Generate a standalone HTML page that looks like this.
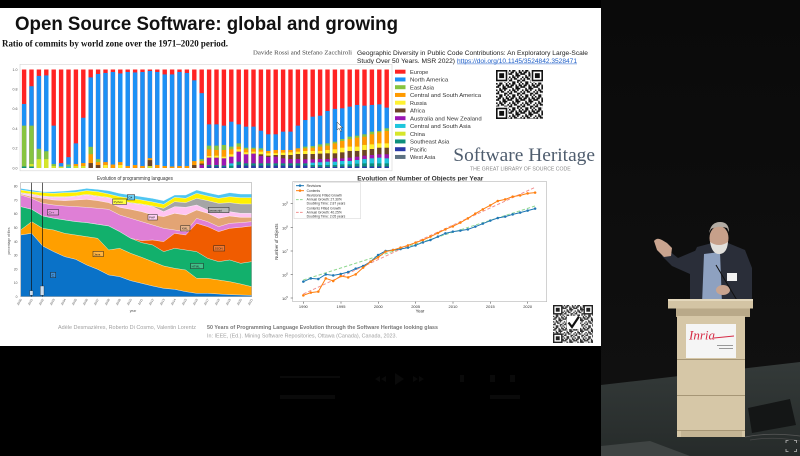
<!DOCTYPE html>
<html><head><meta charset="utf-8">
<style>
html,body{margin:0;padding:0;background:#000;width:800px;height:456px;overflow:hidden}
svg{display:block}
.sans{font-family:"Liberation Sans",Arial,sans-serif}
.serif{font-family:"Liberation Serif","Times New Roman",serif}
.e{fill:#ff2323}.n{fill:#1c90f5}.a{fill:#86c440}.s{fill:#ff9a00}.u{fill:#fff230}.f{fill:#6b4428}.p{fill:#9a16b4}.c{fill:#1ec6dc}.h{fill:#d6e62a}.t{fill:#0d8f7c}.i{fill:#2a3aa8}.w{fill:#5c7282}
.tk{font-family:"Liberation Sans",sans-serif;fill:#555}
</style></head>
<body>
<svg width="800" height="456" viewBox="0 0 800 456" xmlns="http://www.w3.org/2000/svg">
<defs>
<pattern id="q1" width="8" height="8" patternUnits="userSpaceOnUse" patternTransform="translate(496 70) scale(1.62)">
<path fill="#111" d="M0 0h1v1h-1z M2 0h2v1h-2z M6 0h1v1h-1z M1 1h2v1h-2z M4 1h1v1h-1z M6 1h2v1h-2z M0 2h2v1h-2z M4 2h2v1h-2z M7 2h1v1h-1z M2 3h1v1h-1z M4 3h3v1h-3z M0 4h1v1h-1z M2 4h2v1h-2z M5 4h1v1h-1z M1 5h1v1h-1z M3 5h2v1h-2z M7 5h1v1h-1z M0 6h2v1h-2z M5 6h2v1h-2z M2 7h2v1h-2z M5 7h1v1h-1z M7 7h1v1h-1z"/>
</pattern>
<pattern id="q2" width="8" height="8" patternUnits="userSpaceOnUse" patternTransform="translate(553 305) scale(1.35)">
<path fill="#333" d="M0 0h1v1h-1z M2 0h2v1h-2z M6 0h1v1h-1z M1 1h2v1h-2z M4 1h1v1h-1z M6 1h2v1h-2z M0 2h2v1h-2z M4 2h2v1h-2z M7 2h1v1h-1z M2 3h1v1h-1z M4 3h3v1h-3z M0 4h1v1h-1z M2 4h2v1h-2z M5 4h1v1h-1z M1 5h1v1h-1z M3 5h2v1h-2z M7 5h1v1h-1z M0 6h2v1h-2z M5 6h2v1h-2z M2 7h2v1h-2z M5 7h1v1h-1z M7 7h1v1h-1z"/>
</pattern>
<marker id="mb" markerWidth="10" markerHeight="10" refX="5" refY="5" markerUnits="userSpaceOnUse"><circle cx="5" cy="5" r="3.8" fill="#1f77b4"/></marker>
<marker id="mo" markerWidth="10" markerHeight="10" refX="5" refY="5" markerUnits="userSpaceOnUse"><circle cx="5" cy="5" r="3.8" fill="#ff7f0e"/></marker>
<linearGradient id="cur" x1="0" y1="0" x2="0" y2="1"><stop offset="0" stop-color="#0a0a0a"/><stop offset="1" stop-color="#111"/></linearGradient>
<linearGradient id="flr" x1="0" y1="0" x2="0" y2="1"><stop offset="0" stop-color="#343a39"/><stop offset="1" stop-color="#262b2a"/></linearGradient>
</defs>

<rect x="0" y="0" width="800" height="456" fill="#000"/>
<rect x="0" y="8" width="601" height="338" fill="#fff"/>

<text class="sans" x="15" y="30" font-size="19.5" font-weight="bold" fill="#111" textLength="383" lengthAdjust="spacingAndGlyphs">Open Source Software: global and growing</text>
<text class="serif" x="2" y="46.5" font-size="9" font-weight="bold" fill="#111" textLength="226" lengthAdjust="spacingAndGlyphs">Ratio of commits by world zone over the 1971–2020 period.</text>
<text class="serif" x="253" y="54.5" font-size="6.3" fill="#444" textLength="99" lengthAdjust="spacingAndGlyphs">Davide Rossi and Stefano Zacchiroli</text>
<text class="sans" x="357" y="54.8" font-size="6.8" fill="#222" textLength="231" lengthAdjust="spacingAndGlyphs">Geographic Diversity in Public Code Contributions: An Exploratory Large-Scale</text>
<text class="sans" x="357" y="62.8" font-size="6.8" fill="#222" textLength="98" lengthAdjust="spacingAndGlyphs">Study Over 50 Years. MSR 2022)</text>
<text class="sans" x="457" y="62.8" font-size="6.8" fill="#1f5fc8" textLength="120" lengthAdjust="spacingAndGlyphs">https://doi.org/10.1145/3524842.3528471</text>
<line x1="457" y1="63.9" x2="577" y2="63.9" stroke="#1f5fc8" stroke-width="0.5"/>

<rect x="20" y="64.3" width="372" height="106.5" fill="none" stroke="#d4d4d4" stroke-width="0.6"/>
<g class="tk" font-size="3.6" text-anchor="end">
<text x="17.5" y="70.8">1.0</text><text x="17.5" y="90.5">0.8</text><text x="17.5" y="110.2">0.6</text><text x="17.5" y="129.9">0.4</text><text x="17.5" y="149.6">0.2</text><text x="17.5" y="169.3">0.0</text>
</g>

<g>
<g transform="translate(21.9 168) scale(4.4 -98.5)"><rect class="e" width="1" height="1"/><rect class="n" width="1" height=".65"/><rect class="a" width="1" height=".43"/><rect class="t" width="1" height=".015"/></g>
<g transform="translate(29.3 168) scale(4.4 -98.5)"><rect class="e" width="1" height="1"/><rect class="n" width="1" height=".83"/><rect class="a" width="1" height=".43"/><rect class="h" width="1" height=".04"/><rect class="t" width="1" height=".015"/></g>
<g transform="translate(36.7 168) scale(4.4 -98.5)"><rect class="e" width="1" height="1"/><rect class="n" width="1" height=".935"/><rect class="a" width="1" height=".195"/><rect class="h" width="1" height=".09"/></g>
<g transform="translate(44.1 168) scale(4.4 -98.5)"><rect class="e" width="1" height="1"/><rect class="n" width="1" height=".94"/><rect class="a" width="1" height=".17"/><rect class="h" width="1" height=".09"/></g>
<g transform="translate(51.5 168) scale(4.4 -98.5)"><rect class="e" width="1" height="1"/><rect class="n" width="1" height=".43"/><rect class="a" width="1" height=".04"/><rect class="h" width="1" height=".02"/></g>
<g transform="translate(58.9 168) scale(4.4 -98.5)"><rect class="e" width="1" height="1"/><rect class="n" width="1" height=".05"/><rect class="h" width="1" height=".015"/></g>
<g transform="translate(66.3 168) scale(4.4 -98.5)"><rect class="e" width="1" height="1"/><rect class="n" width="1" height=".11"/><rect class="a" width="1" height=".035"/><rect class="c" width="1" height=".015"/></g>
<g transform="translate(73.7 168) scale(4.4 -98.5)"><rect class="e" width="1" height="1"/><rect class="n" width="1" height=".25"/><rect class="s" width="1" height=".04"/><rect class="h" width="1" height=".02"/></g>
<g transform="translate(81.1 168) scale(4.4 -98.5)"><rect class="e" width="1" height="1"/><rect class="n" width="1" height=".51"/><rect class="s" width="1" height=".05"/><rect class="h" width="1" height=".02"/></g>
<g transform="translate(88.5 168) scale(4.4 -98.5)"><rect class="e" width="1" height="1"/><rect class="n" width="1" height=".92"/><rect class="a" width="1" height=".215"/><rect class="s" width="1" height=".14"/><rect class="f" width="1" height=".05"/></g>
<g transform="translate(95.9 168) scale(4.4 -98.5)"><rect class="e" width="1" height="1"/><rect class="n" width="1" height=".955"/><rect class="a" width="1" height=".09"/><rect class="s" width="1" height=".06"/><rect class="f" width="1" height=".03"/></g>
<g transform="translate(103.3 168) scale(4.4 -98.5)"><rect class="e" width="1" height="1"/><rect class="n" width="1" height=".965"/><rect class="s" width="1" height=".06"/><rect class="u" width="1" height=".03"/></g>
<g transform="translate(110.7 168) scale(4.4 -98.5)"><rect class="e" width="1" height="1"/><rect class="n" width="1" height=".975"/><rect class="s" width="1" height=".035"/></g>
<g transform="translate(118.1 168) scale(4.4 -98.5)"><rect class="e" width="1" height="1"/><rect class="n" width="1" height=".96"/><rect class="s" width="1" height=".06"/><rect class="u" width="1" height=".03"/></g>
<g transform="translate(125.5 168) scale(4.4 -98.5)"><rect class="e" width="1" height="1"/><rect class="n" width="1" height=".975"/><rect class="s" width="1" height=".02"/></g>
<g transform="translate(132.9 168) scale(4.4 -98.5)"><rect class="e" width="1" height="1"/><rect class="n" width="1" height=".97"/><rect class="s" width="1" height=".03"/></g>
<g transform="translate(140.3 168) scale(4.4 -98.5)"><rect class="e" width="1" height="1"/><rect class="n" width="1" height=".975"/><rect class="s" width="1" height=".02"/></g>
<g transform="translate(147.7 168) scale(4.4 -98.5)"><rect class="e" width="1" height="1"/><rect class="n" width="1" height=".985"/><rect class="s" width="1" height=".1"/><rect class="f" width="1" height=".08"/><rect class="h" width="1" height=".02"/></g>
<g transform="translate(155.1 168) scale(4.4 -98.5)"><rect class="e" width="1" height="1"/><rect class="n" width="1" height=".975"/><rect class="s" width="1" height=".03"/></g>
<g transform="translate(162.5 168) scale(4.4 -98.5)"><rect class="e" width="1" height="1"/><rect class="n" width="1" height=".95"/><rect class="s" width="1" height=".02"/></g>
<g transform="translate(169.9 168) scale(4.4 -98.5)"><rect class="e" width="1" height="1"/><rect class="n" width="1" height=".95"/><rect class="s" width="1" height=".015"/></g>
<g transform="translate(177.3 168) scale(4.4 -98.5)"><rect class="e" width="1" height="1"/><rect class="n" width="1" height=".975"/><rect class="s" width="1" height=".02"/></g>
<g transform="translate(184.7 168) scale(4.4 -98.5)"><rect class="e" width="1" height="1"/><rect class="n" width="1" height=".965"/><rect class="s" width="1" height=".02"/></g>
<g transform="translate(192.1 168) scale(4.4 -98.5)"><rect class="e" width="1" height="1"/><rect class="n" width="1" height=".89"/><rect class="s" width="1" height=".07"/><rect class="f" width="1" height=".03"/></g>
<g transform="translate(199.5 168) scale(4.4 -98.5)"><rect class="e" width="1" height="1"/><rect class="n" width="1" height=".76"/><rect class="a" width="1" height=".09"/><rect class="s" width="1" height=".07"/><rect class="f" width="1" height=".045"/><rect class="p" width="1" height=".03"/></g>
<g transform="translate(206.9 168) scale(4.4 -98.5)"><rect class="e" width="1" height="1"/><rect class="n" width="1" height=".443"/><rect class="a" width="1" height=".227"/><rect class="s" width="1" height=".19"/><rect class="u" width="1" height=".122"/><rect class="p" width="1" height=".105"/><rect class="t" width="1" height=".03"/><rect class="i" width="1" height=".017"/></g>
<g transform="translate(214.3 168) scale(4.4 -98.5)"><rect class="e" width="1" height="1"/><rect class="n" width="1" height=".443"/><rect class="a" width="1" height=".227"/><rect class="s" width="1" height=".183"/><rect class="u" width="1" height=".125"/><rect class="p" width="1" height=".105"/><rect class="t" width="1" height=".03"/><rect class="i" width="1" height=".017"/></g>
<g transform="translate(221.7 168) scale(4.4 -98.5)"><rect class="e" width="1" height="1"/><rect class="n" width="1" height=".43"/><rect class="a" width="1" height=".234"/><rect class="s" width="1" height=".183"/><rect class="u" width="1" height=".115"/><rect class="p" width="1" height=".098"/><rect class="t" width="1" height=".024"/><rect class="i" width="1" height=".012"/></g>
<g transform="translate(229.1 168) scale(4.4 -98.5)"><rect class="e" width="1" height="1"/><rect class="n" width="1" height=".47"/><rect class="a" width="1" height=".217"/><rect class="s" width="1" height=".19"/><rect class="u" width="1" height=".139"/><rect class="p" width="1" height=".115"/><rect class="c" width="1" height=".047"/><rect class="t" width="1" height=".024"/></g>
<g transform="translate(236.5 168) scale(4.4 -98.5)"><rect class="e" width="1" height="1"/><rect class="n" width="1" height=".443"/><rect class="a" width="1" height=".25"/><rect class="s" width="1" height=".217"/><rect class="u" width="1" height=".19"/><rect class="p" width="1" height=".166"/><rect class="t" width="1" height=".064"/><rect class="i" width="1" height=".03"/></g>
<g transform="translate(243.9 168) scale(4.4 -98.5)"><rect class="e" width="1" height="1"/><rect class="n" width="1" height=".42"/><rect class="a" width="1" height=".206"/><rect class="s" width="1" height=".19"/><rect class="u" width="1" height=".159"/><rect class="p" width="1" height=".139"/><rect class="t" width="1" height=".047"/><rect class="i" width="1" height=".025"/></g>
<g transform="translate(251.3 168) scale(4.4 -98.5)"><rect class="e" width="1" height="1"/><rect class="n" width="1" height=".42"/><rect class="a" width="1" height=".206"/><rect class="s" width="1" height=".193"/><rect class="u" width="1" height=".166"/><rect class="p" width="1" height=".146"/><rect class="t" width="1" height=".047"/><rect class="i" width="1" height=".025"/></g>
<g transform="translate(258.7 168) scale(4.4 -98.5)"><rect class="e" width="1" height="1"/><rect class="n" width="1" height=".379"/><rect class="a" width="1" height=".2"/><rect class="s" width="1" height=".183"/><rect class="u" width="1" height=".166"/><rect class="f" width="1" height=".139"/><rect class="p" width="1" height=".122"/><rect class="t" width="1" height=".047"/><rect class="i" width="1" height=".025"/></g>
<g transform="translate(266.1 168) scale(4.4 -98.5)"><rect class="e" width="1" height="1"/><rect class="n" width="1" height=".342"/><rect class="s" width="1" height=".173"/><rect class="u" width="1" height=".149"/><rect class="f" width="1" height=".125"/><rect class="p" width="1" height=".112"/><rect class="t" width="1" height=".047"/><rect class="i" width="1" height=".025"/></g>
<g transform="translate(273.5 168) scale(4.4 -98.5)"><rect class="e" width="1" height="1"/><rect class="n" width="1" height=".342"/><rect class="s" width="1" height=".183"/><rect class="u" width="1" height=".149"/><rect class="f" width="1" height=".132"/><rect class="p" width="1" height=".115"/><rect class="t" width="1" height=".047"/><rect class="i" width="1" height=".025"/></g>
<g transform="translate(280.9 168) scale(4.4 -98.5)"><rect class="e" width="1" height="1"/><rect class="n" width="1" height=".369"/><rect class="s" width="1" height=".183"/><rect class="u" width="1" height=".156"/><rect class="f" width="1" height=".132"/><rect class="p" width="1" height=".098"/><rect class="t" width="1" height=".047"/><rect class="i" width="1" height=".025"/></g>
<g transform="translate(288.3 168) scale(4.4 -98.5)"><rect class="e" width="1" height="1"/><rect class="n" width="1" height=".369"/><rect class="s" width="1" height=".183"/><rect class="u" width="1" height=".159"/><rect class="f" width="1" height=".132"/><rect class="p" width="1" height=".091"/><rect class="t" width="1" height=".047"/><rect class="i" width="1" height=".025"/></g>
<g transform="translate(295.7 168) scale(4.4 -98.5)"><rect class="e" width="1" height="1"/><rect class="n" width="1" height=".43"/><rect class="s" width="1" height=".2"/><rect class="u" width="1" height=".166"/><rect class="f" width="1" height=".142"/><rect class="p" width="1" height=".091"/><rect class="t" width="1" height=".047"/><rect class="i" width="1" height=".025"/></g>
<g transform="translate(303.1 168) scale(4.4 -98.5)"><rect class="e" width="1" height="1"/><rect class="n" width="1" height=".487"/><rect class="a" width="1" height=".217"/><rect class="s" width="1" height=".2"/><rect class="u" width="1" height=".173"/><rect class="f" width="1" height=".142"/><rect class="p" width="1" height=".088"/><rect class="t" width="1" height=".047"/><rect class="i" width="1" height=".025"/></g>
<g transform="translate(310.5 168) scale(4.4 -98.5)"><rect class="e" width="1" height="1"/><rect class="n" width="1" height=".521"/><rect class="a" width="1" height=".223"/><rect class="s" width="1" height=".206"/><rect class="u" width="1" height=".173"/><rect class="f" width="1" height=".142"/><rect class="p" width="1" height=".088"/><rect class="c" width="1" height=".054"/><rect class="t" width="1" height=".03"/><rect class="i" width="1" height=".012"/></g>
<g transform="translate(317.9 168) scale(4.4 -98.5)"><rect class="e" width="1" height="1"/><rect class="n" width="1" height=".531"/><rect class="a" width="1" height=".24"/><rect class="s" width="1" height=".217"/><rect class="u" width="1" height=".173"/><rect class="f" width="1" height=".146"/><rect class="p" width="1" height=".091"/><rect class="c" width="1" height=".058"/><rect class="t" width="1" height=".03"/><rect class="i" width="1" height=".012"/></g>
<g transform="translate(325.3 168) scale(4.4 -98.5)"><rect class="e" width="1" height="1"/><rect class="n" width="1" height=".579"/><rect class="a" width="1" height=".25"/><rect class="s" width="1" height=".227"/><rect class="u" width="1" height=".183"/><rect class="f" width="1" height=".149"/><rect class="p" width="1" height=".091"/><rect class="c" width="1" height=".064"/><rect class="t" width="1" height=".03"/><rect class="i" width="1" height=".012"/></g>
<g transform="translate(332.7 168) scale(4.4 -98.5)"><rect class="e" width="1" height="1"/><rect class="n" width="1" height=".6"/><rect class="a" width="1" height=".267"/><rect class="s" width="1" height=".25"/><rect class="u" width="1" height=".19"/><rect class="f" width="1" height=".149"/><rect class="p" width="1" height=".098"/><rect class="c" width="1" height=".064"/><rect class="t" width="1" height=".03"/><rect class="i" width="1" height=".012"/></g>
<g transform="translate(340.1 168) scale(4.4 -98.5)"><rect class="e" width="1" height="1"/><rect class="n" width="1" height=".606"/><rect class="a" width="1" height=".294"/><rect class="s" width="1" height=".274"/><rect class="u" width="1" height=".206"/><rect class="f" width="1" height=".159"/><rect class="p" width="1" height=".098"/><rect class="c" width="1" height=".071"/><rect class="t" width="1" height=".037"/><rect class="i" width="1" height=".015"/></g>
<g transform="translate(347.5 168) scale(4.4 -98.5)"><rect class="e" width="1" height="1"/><rect class="n" width="1" height=".623"/><rect class="a" width="1" height=".318"/><rect class="s" width="1" height=".294"/><rect class="u" width="1" height=".217"/><rect class="f" width="1" height=".173"/><rect class="p" width="1" height=".105"/><rect class="c" width="1" height=".071"/><rect class="t" width="1" height=".037"/><rect class="i" width="1" height=".015"/></g>
<g transform="translate(354.9 168) scale(4.4 -98.5)"><rect class="e" width="1" height="1"/><rect class="n" width="1" height=".64"/><rect class="a" width="1" height=".328"/><rect class="s" width="1" height=".308"/><rect class="u" width="1" height=".217"/><rect class="f" width="1" height=".173"/><rect class="p" width="1" height=".115"/><rect class="c" width="1" height=".081"/><rect class="t" width="1" height=".044"/><rect class="i" width="1" height=".015"/></g>
<g transform="translate(362.3 168) scale(4.4 -98.5)"><rect class="e" width="1" height="1"/><rect class="n" width="1" height=".633"/><rect class="a" width="1" height=".342"/><rect class="s" width="1" height=".318"/><rect class="u" width="1" height=".234"/><rect class="f" width="1" height=".183"/><rect class="p" width="1" height=".125"/><rect class="c" width="1" height=".091"/><rect class="t" width="1" height=".047"/><rect class="i" width="1" height=".015"/></g>
<g transform="translate(369.7 168) scale(4.4 -98.5)"><rect class="e" width="1" height="1"/><rect class="n" width="1" height=".64"/><rect class="a" width="1" height=".369"/><rect class="s" width="1" height=".342"/><rect class="u" width="1" height=".24"/><rect class="f" width="1" height=".193"/><rect class="p" width="1" height=".132"/><rect class="c" width="1" height=".098"/><rect class="t" width="1" height=".047"/><rect class="i" width="1" height=".015"/></g>
<g transform="translate(377.1 168) scale(4.4 -98.5)"><rect class="e" width="1" height="1"/><rect class="n" width="1" height=".646"/><rect class="a" width="1" height=".376"/><rect class="s" width="1" height=".362"/><rect class="u" width="1" height=".25"/><rect class="f" width="1" height=".206"/><rect class="p" width="1" height=".139"/><rect class="c" width="1" height=".105"/><rect class="t" width="1" height=".047"/><rect class="i" width="1" height=".015"/></g>
<g transform="translate(384.5 168) scale(4.4 -98.5)"><rect class="e" width="1" height="1"/><rect class="n" width="1" height=".613"/><rect class="a" width="1" height=".403"/><rect class="s" width="1" height=".376"/><rect class="u" width="1" height=".25"/><rect class="f" width="1" height=".206"/><rect class="p" width="1" height=".139"/><rect class="c" width="1" height=".098"/><rect class="t" width="1" height=".047"/><rect class="i" width="1" height=".015"/></g>
</g>
<path d="M337 122 L337 130 L339 128.3 L340.6 131.5 L341.8 130.9 L340.3 127.8 L342.6 127.6 Z" fill="#fff" stroke="#333" stroke-width="0.5"/>

<g class="sans" font-size="5.8" fill="#333">
<rect class="e" x="395" y="69.7" width="10.5" height="4"/><text x="410" y="73.8" textLength="18.3" lengthAdjust="spacingAndGlyphs">Europe</text>
<rect class="n" x="395" y="77.45" width="10.5" height="4"/><text x="410" y="81.55" textLength="38.3" lengthAdjust="spacingAndGlyphs">North America</text>
<rect class="a" x="395" y="85.2" width="10.5" height="4"/><text x="410" y="89.3" textLength="24" lengthAdjust="spacingAndGlyphs">East Asia</text>
<rect class="s" x="395" y="92.95" width="10.5" height="4"/><text x="410" y="97.05" textLength="71" lengthAdjust="spacingAndGlyphs">Central and South America</text>
<rect class="u" x="395" y="100.7" width="10.5" height="4"/><text x="410" y="104.8" textLength="16.7" lengthAdjust="spacingAndGlyphs">Russia</text>
<rect class="f" x="395" y="108.45" width="10.5" height="4"/><text x="410" y="112.55" textLength="15" lengthAdjust="spacingAndGlyphs">Africa</text>
<rect class="p" x="395" y="116.2" width="10.5" height="4"/><text x="410" y="120.3" textLength="71.7" lengthAdjust="spacingAndGlyphs">Australia and New Zealand</text>
<rect class="c" x="395" y="123.95" width="10.5" height="4"/><text x="410" y="128.05" textLength="60.7" lengthAdjust="spacingAndGlyphs">Central and South Asia</text>
<rect class="h" x="395" y="131.7" width="10.5" height="4"/><text x="410" y="135.8" textLength="15" lengthAdjust="spacingAndGlyphs">China</text>
<rect class="t" x="395" y="139.45" width="10.5" height="4"/><text x="410" y="143.55" textLength="39.3" lengthAdjust="spacingAndGlyphs">Southeast Asia</text>
<rect class="i" x="395" y="147.2" width="10.5" height="4"/><text x="410" y="151.3" textLength="16.7" lengthAdjust="spacingAndGlyphs">Pacific</text>
<rect class="w" x="395" y="154.95" width="10.5" height="4"/><text x="410" y="159.05" textLength="25.3" lengthAdjust="spacingAndGlyphs">West Asia</text>
</g>

<rect x="496" y="70" width="47" height="49" fill="#fff"/>
<rect x="496" y="70" width="47" height="49" fill="url(#q1)"/>
<g>
<rect x="496" y="70" width="12.5" height="12.5" fill="#fff"/><rect x="496" y="70" width="11.3" height="11.3" fill="#111"/><rect x="497.6" y="71.6" width="8.1" height="8.1" fill="#fff"/><rect x="499.2" y="73.2" width="4.9" height="4.9" fill="#111"/>
<rect x="530.5" y="70" width="12.5" height="12.5" fill="#fff"/><rect x="531.7" y="70" width="11.3" height="11.3" fill="#111"/><rect x="533.3" y="71.6" width="8.1" height="8.1" fill="#fff"/><rect x="534.9" y="73.2" width="4.9" height="4.9" fill="#111"/>
<rect x="496" y="106.5" width="12.5" height="12.5" fill="#fff"/><rect x="496" y="107.7" width="11.3" height="11.3" fill="#111"/><rect x="497.6" y="109.3" width="8.1" height="8.1" fill="#fff"/><rect x="499.2" y="110.9" width="4.9" height="4.9" fill="#111"/>
</g>

<text class="serif" x="453.3" y="161" font-size="19" fill="#4f5d6e" textLength="141.7" lengthAdjust="spacingAndGlyphs">Software Heritage</text>
<text class="sans" x="470" y="170.5" font-size="5.2" fill="#8a8a8a" textLength="100.7" lengthAdjust="spacingAndGlyphs">THE GREAT LIBRARY OF SOURCE CODE</text>

<text class="sans" x="97" y="180.2" font-size="5" fill="#333" textLength="76" lengthAdjust="spacingAndGlyphs">Evolution of programming languages</text>
<g transform="translate(18 180) scale(0.333333)" stroke="#fff" stroke-width="1.2" stroke-linejoin="round">
<polygon fill="#4fc6f2" points="8,25 41,30 74,35 107,35 140,33 173,30 206,25 239,28 272,32 305,40 338,45 371,50 404,55 437,62 470,45 503,45 536,30 569,38 602,45 635,38 668,42 701,42 701,350 8,350"/>
<polygon fill="#fff000" points="8,30 41,35 74,38 107,40 140,38 173,37 206,32 239,35 272,42 305,50 338,55 371,60 404,66 437,73 470,52 503,55 536,40 569,48 602,55 635,50 668,53 701,53 701,350 8,350"/>
<polygon fill="#a5a5a5" points="8,38 41,42 74,48 107,50 140,50 173,48 206,43 239,48 272,52 305,62 338,68 371,72 404,78 437,85 470,65 503,68 536,55 569,62 602,70 635,68 668,72 701,72 701,350 8,350"/>
<polygon fill="#ffc4f2" points="8,40 41,44 74,50 107,52 140,52 173,50 206,45 239,50 272,54 305,64 338,70 371,74 404,80 437,95 470,80 503,82 536,75 569,90 602,100 635,95 668,100 701,100 701,350 8,350"/>
<polygon fill="#e3a474" points="8,42 41,50 74,55 107,60 140,62 173,60 206,58 239,62 272,68 305,82 338,88 371,95 404,105 437,110 470,100 503,105 536,90 569,100 602,115 635,108 668,112 701,112 701,350 8,350"/>
<polygon fill="#df7fd6" points="8,45 41,55 74,70 107,75 140,78 173,80 206,82 239,85 272,88 305,105 338,115 371,125 404,135 437,145 470,150 503,155 536,115 569,125 602,140 635,130 668,128 701,125 701,350 8,350"/>
<polygon fill="#f05c00" points="8,80 41,88 74,108 107,115 140,120 173,125 206,128 239,133 272,138 305,155 338,175 371,182 404,180 437,185 470,160 503,165 536,130 569,140 602,155 635,145 668,142 701,138 701,350 8,350"/>
<polygon fill="#12b06c" points="8,80 41,88 74,108 107,115 140,120 173,125 206,128 239,133 272,138 305,155 338,175 371,188 404,195 437,215 470,205 503,210 536,215 569,235 602,245 635,240 668,250 701,245 701,350 8,350"/>
<polygon fill="#ff9f00" points="8,150 41,125 74,145 107,150 140,160 173,165 206,170 239,175 272,210 305,205 338,220 371,232 404,245 437,258 470,265 503,270 536,295 569,295 602,300 635,305 668,312 701,320 701,350 8,350"/>
<polygon fill="#0a72c8" points="8,165 41,160 74,198 107,215 140,230 173,238 206,255 239,268 272,285 305,290 338,302 371,310 404,318 437,325 470,328 503,335 536,340 569,340 602,342 635,344 668,345 701,346 701,350 8,350"/>
</g>
<g transform="translate(18 180) scale(0.333333)">
<rect x="8" y="8" width="693" height="342" fill="none" stroke="#999" stroke-width="1.5"/>
<line x1="41" y1="8" x2="41" y2="350" stroke="#111" stroke-width="2"/>
<line x1="74" y1="8" x2="74" y2="350" stroke="#111" stroke-width="2"/>
<rect x="35" y="332" width="10" height="14" fill="#cde" stroke="#222" stroke-width="1"/>
<rect x="67" y="318" width="11" height="28" fill="#cde" stroke="#222" stroke-width="1"/>
<g font-family="Liberation Sans, sans-serif" font-size="10" fill="#222" stroke-width="1.5">
<rect x="98" y="277" width="15" height="16" fill="#3d8fd8" stroke="#222"/><text x="101" y="289">C</text>
<rect x="225" y="214" width="31" height="16" fill="#ffb340" stroke="#222"/><text x="228" y="226" font-size="9">Java</text>
<rect x="518" y="250" width="38" height="16" fill="#40c088" stroke="#222"/><text x="521" y="262" font-size="9">HTML</text>
<rect x="587" y="197" width="33" height="16" fill="#f47a30" stroke="#222"/><text x="590" y="209" font-size="9">JSON</text>
<rect x="488" y="137" width="28" height="16" fill="#e9b48a" stroke="#222"/><text x="491" y="149" font-size="9">XML</text>
<rect x="88" y="89" width="34" height="16" fill="#e699dd" stroke="#222"/><text x="92" y="101" font-size="9">C++</text>
<rect x="390" y="104" width="28" height="16" fill="#ffd0f4" stroke="#222"/><text x="393" y="116" font-size="9">PHP</text>
<rect x="571" y="82" width="62" height="16" fill="#b5b5b5" stroke="#222"/><text x="574" y="94" font-size="9">javascript</text>
<rect x="284" y="57" width="42" height="16" fill="#ffff40" stroke="#222"/><text x="287" y="69" font-size="9">Python</text>
<rect x="328" y="44" width="22" height="16" fill="#6fd0f4" stroke="#222"/><text x="331" y="56" font-size="9">C#</text>
</g>
</g>
<g class="tk" font-size="3.3" text-anchor="end">
<text x="17.5" y="298">0</text><text x="17.5" y="284.2">10</text><text x="17.5" y="270.4">20</text><text x="17.5" y="256.6">30</text><text x="17.5" y="242.8">40</text><text x="17.5" y="229">50</text><text x="17.5" y="215.2">60</text><text x="17.5" y="201.4">70</text><text x="17.5" y="187.6">80</text>
</g>
<text class="tk" font-size="3.3" transform="translate(10 241) rotate(-90)" text-anchor="middle">percentage of files</text>
<g class="tk" font-size="3.1" text-anchor="end">
<text transform="translate(22 299.5) rotate(-60)">2000</text>
<text transform="translate(33 299.5) rotate(-60)">2001</text>
<text transform="translate(44 299.5) rotate(-60)">2002</text>
<text transform="translate(55 299.5) rotate(-60)">2003</text>
<text transform="translate(66 299.5) rotate(-60)">2004</text>
<text transform="translate(77 299.5) rotate(-60)">2005</text>
<text transform="translate(88 299.5) rotate(-60)">2006</text>
<text transform="translate(99 299.5) rotate(-60)">2007</text>
<text transform="translate(110 299.5) rotate(-60)">2008</text>
<text transform="translate(121 299.5) rotate(-60)">2009</text>
<text transform="translate(132 299.5) rotate(-60)">2010</text>
<text transform="translate(143 299.5) rotate(-60)">2011</text>
<text transform="translate(154 299.5) rotate(-60)">2012</text>
<text transform="translate(165 299.5) rotate(-60)">2013</text>
<text transform="translate(176 299.5) rotate(-60)">2014</text>
<text transform="translate(187 299.5) rotate(-60)">2015</text>
<text transform="translate(198 299.5) rotate(-60)">2016</text>
<text transform="translate(209 299.5) rotate(-60)">2017</text>
<text transform="translate(220 299.5) rotate(-60)">2018</text>
<text transform="translate(231 299.5) rotate(-60)">2019</text>
<text transform="translate(242 299.5) rotate(-60)">2020</text>
<text transform="translate(253 299.5) rotate(-60)">2021</text>
</g>
<text class="tk" x="133" y="312" font-size="3.3" text-anchor="middle">year</text>

<text class="sans" x="357.3" y="180.6" font-size="6.4" font-weight="bold" fill="#333" textLength="126" lengthAdjust="spacingAndGlyphs">Evolution of Number of Objects per Year</text>
<g transform="translate(270 170) scale(0.333333)">
<rect x="68" y="35" width="762" height="360" fill="#fff" stroke="#bbb" stroke-width="2"/>
<g stroke="#666" stroke-width="2">
<line x1="62" y1="100" x2="68" y2="100"/><line x1="62" y1="172" x2="68" y2="172"/><line x1="62" y1="243" x2="68" y2="243"/><line x1="62" y1="313" x2="68" y2="313"/><line x1="62" y1="384" x2="68" y2="384"/>
<line x1="100" y1="395" x2="100" y2="401"/><line x1="213" y1="395" x2="213" y2="401"/><line x1="325" y1="395" x2="325" y2="401"/><line x1="437" y1="395" x2="437" y2="401"/><line x1="549" y1="395" x2="549" y2="401"/><line x1="661" y1="395" x2="661" y2="401"/><line x1="773" y1="395" x2="773" y2="401"/>
</g>
<g font-family="Liberation Sans, sans-serif" font-size="12" fill="#333">
<text x="36" y="106">10<tspan font-size="8" dy="-6">9</tspan></text>
<text x="36" y="178">10<tspan font-size="8" dy="-6">8</tspan></text>
<text x="36" y="249">10<tspan font-size="8" dy="-6">7</tspan></text>
<text x="36" y="319">10<tspan font-size="8" dy="-6">6</tspan></text>
<text x="36" y="390">10<tspan font-size="8" dy="-6">5</tspan></text>
<g text-anchor="middle">
<text x="100" y="414">1990</text><text x="213" y="414">1995</text><text x="325" y="414">2000</text><text x="437" y="414">2005</text><text x="549" y="414">2010</text><text x="661" y="414">2015</text><text x="773" y="414">2020</text>
<text x="450" y="427" font-size="13">Year</text>
<text transform="translate(24 215) rotate(-90)" font-size="13">Number of Objects</text>
</g>
</g>
<line x1="100" y1="330" x2="795" y2="108" stroke="#8fd88f" stroke-width="3" stroke-dasharray="10 6"/>
<line x1="100" y1="372" x2="795" y2="52" stroke="#f29090" stroke-width="3" stroke-dasharray="10 6"/>
<polyline fill="none" stroke="#1f77b4" stroke-width="3" marker-start="url(#mb)" marker-mid="url(#mb)" marker-end="url(#mb)" points="100,335 122.4,325 144.9,327 167.3,313 189.7,316 212.2,312 234.6,306 257,296 279.4,288 301.9,275 324.3,255 346.7,243 369.2,240 391.6,237 414,233 436.5,226 458.9,217 481.3,210 503.7,200 526.2,190 548.6,185 571,182 593.5,178 615.9,170 638.3,161 660.8,152 683.2,144 705.6,140 728,133 750.5,128 772.9,122 795.3,116"/>
<polyline fill="none" stroke="#ff7f0e" stroke-width="3" marker-start="url(#mo)" marker-mid="url(#mo)" marker-end="url(#mo)" points="100,376 122.4,368 144.9,365 167.3,325 189.7,333 212.2,318 234.6,322 257,313 279.4,293 301.9,275 324.3,262 346.7,245 369.2,240 391.6,233 414,226 436.5,218 458.9,210 481.3,200 503.7,189 526.2,178 548.6,169 571,158 593.5,145 615.9,131 638.3,118 660.8,106 683.2,93 705.6,88 728,80 750.5,76 772.9,70 795.3,68"/>
<rect x="72" y="38" width="200" height="108" fill="#fff" fill-opacity="0.85" stroke="#ddd" stroke-width="2"/>
<line x1="78" y1="47" x2="102" y2="47" stroke="#1f77b4" stroke-width="3"/><circle cx="90" cy="47" r="3.8" fill="#1f77b4"/>
<line x1="78" y1="62" x2="102" y2="62" stroke="#ff7f0e" stroke-width="3"/><circle cx="90" cy="62" r="3.8" fill="#ff7f0e"/>
<line x1="78" y1="89" x2="102" y2="89" stroke="#8fd88f" stroke-width="3" stroke-dasharray="8 4"/>
<line x1="78" y1="127" x2="102" y2="127" stroke="#f29090" stroke-width="3" stroke-dasharray="8 4"/>
<g font-family="Liberation Sans, sans-serif" font-size="10" fill="#333">
<text x="110" y="51">Revisions</text>
<text x="110" y="66">Contents</text>
<text x="110" y="80">Revisions Fitted Growth</text>
<text x="110" y="92">Annual Growth: 27.30%</text>
<text x="110" y="104">Doubling Time: 2.87 years</text>
<text x="110" y="118">Contents Fitted Growth</text>
<text x="110" y="130">Annual Growth: 40.25%</text>
<text x="110" y="142">Doubling Time: 2.05 years</text>
</g>
</g>

<text class="sans" x="58" y="328.8" font-size="5.6" fill="#a0a0a0" textLength="138" lengthAdjust="spacingAndGlyphs">Adèle Desmazières, Roberto Di Cosmo, Valentin Lorentz</text>
<text class="sans" x="207" y="328.8" font-size="5.6" font-weight="bold" fill="#777" textLength="231" lengthAdjust="spacingAndGlyphs">50 Years of Programming Language Evolution through the Software Heritage looking glass</text>
<text class="sans" x="207" y="337.6" font-size="5.4" fill="#a0a0a0" textLength="190" lengthAdjust="spacingAndGlyphs">In: IEEE, (Ed.). Mining Software Repositories, Ottawa (Canada), Canada, 2023.</text>

<rect x="553" y="305" width="40" height="38" fill="#fff"/>
<rect x="553" y="305" width="40" height="38" fill="url(#q2)"/>
<rect x="553" y="305" width="9.5" height="9.5" fill="#222"/><rect x="554.4" y="306.4" width="6.7" height="6.7" fill="#fff"/><rect x="555.8" y="307.8" width="3.9" height="3.9" fill="#222"/>
<rect x="583.5" y="305" width="9.5" height="9.5" fill="#222"/><rect x="584.9" y="306.4" width="6.7" height="6.7" fill="#fff"/><rect x="586.3" y="307.8" width="3.9" height="3.9" fill="#222"/>
<rect x="553" y="333.5" width="9.5" height="9.5" fill="#222"/><rect x="554.4" y="334.9" width="6.7" height="6.7" fill="#fff"/><rect x="555.8" y="336.3" width="3.9" height="3.9" fill="#222"/>
<rect x="567" y="316" width="13" height="13" fill="#fff"/>
<path d="M568.5 322.5 L572 327 L579 316.5" fill="none" stroke="#111" stroke-width="2.2"/>

<g fill="#0a0a0a">
<rect x="280" y="376" width="60" height="2"/>
<path d="M380 376 l-5 3 5 3z M386 376 l-5 3 5 3z"/>
<path d="M395 373 l9 6 -9 6z"/>
<path d="M413 376 l5 3 -5 3z M419 376 l5 3 -5 3z"/>
<rect x="460" y="375" width="4" height="7"/><rect x="490" y="375" width="5" height="7"/><rect x="510" y="375" width="5" height="7"/>
<rect x="280" y="395" width="55" height="4"/><rect x="490" y="395" width="30" height="4"/>
</g>

<rect x="601" y="0" width="199" height="456" fill="url(#cur)"/>
<polygon points="601,385 800,362 800,456 601,456" fill="url(#flr)"/>
<polygon points="601,446 650,441 690,456 601,456" fill="#3f4443"/>
<polygon points="748,408 790,399 796,425 752,433" fill="#141616"/>
<path d="M745 437 Q770 432 800 436" fill="none" stroke="#5a5a5a" stroke-width="0.8"/>
<path d="M750 440 Q775 436 800 441" fill="none" stroke="#4a4a4a" stroke-width="0.8"/>

<polygon points="690,262 697,247 712,243 728,243 745,250 752,268 752,304 690,304" fill="#2a2e39"/>
<polygon points="704,254 720,252 722,304 702,304" fill="#8ea1c0"/>
<polygon points="697,250 703,262 690,274 672,266 662,256 668,250 678,258" fill="#2a2e39"/>
<path d="M654 241 Q657 237 662 240 L667 243 L672 248 L671 256 L664 257 L657 250 Z" fill="#c9a48f"/>
<ellipse cx="719" cy="238" rx="9.5" ry="12" fill="#c7a08a"/>
<path d="M709 233 Q711 222 720 222 Q729 222 729 232 L727 228 Q719 225 711 229 Z" fill="#b3aca4"/>
<path d="M710 242 Q712 254 719 254 Q727 254 728 242 Q719 248 710 242 Z" fill="#e2e0dc"/>
<rect x="727" y="273" width="10" height="8" fill="#f2f2f2"/>
<ellipse cx="723" cy="290" rx="7" ry="5" fill="#c9a48f"/>
<line x1="716" y1="265" x2="738" y2="302" stroke="#111" stroke-width="1"/>

<rect x="676" y="308" width="74" height="9" fill="#b9a989"/>
<rect x="677" y="316" width="68" height="121" fill="#d6c7a7"/>
<rect x="668" y="299" width="85" height="9.5" fill="#d3c4a4"/>
<rect x="668" y="299" width="85" height="2" fill="#e4d8bd"/>
<g stroke="#a69676" stroke-width="1">
<line x1="677" y1="359.5" x2="745" y2="359.5"/>
<line x1="677" y1="395.5" x2="745" y2="395.5"/>
<line x1="677" y1="430.5" x2="745" y2="430.5"/>
</g>
<rect x="681" y="431" width="61" height="6" fill="#c4b595"/>
<rect x="686" y="324" width="50" height="34" fill="#f5f5f5"/>
<text x="689" y="339.5" font-family="Liberation Serif, serif" font-style="italic" font-size="13" fill="#d62a45">Inria</text>
<path d="M714 338 Q724 337 734 336" fill="none" stroke="#d62a45" stroke-width="0.9"/>
<rect x="717" y="345" width="16" height="1" fill="#999"/><rect x="719" y="348" width="14" height="1" fill="#999"/>

<path d="M786 443 v-2.5 h2.5 M794 440.5 h2.5 v2.5 M796.5 449 v2.5 h-2.5 M788.5 451.5 h-2.5 v-2.5" fill="none" stroke="#bbb" stroke-width="0.8"/>
</svg>
</body></html>
